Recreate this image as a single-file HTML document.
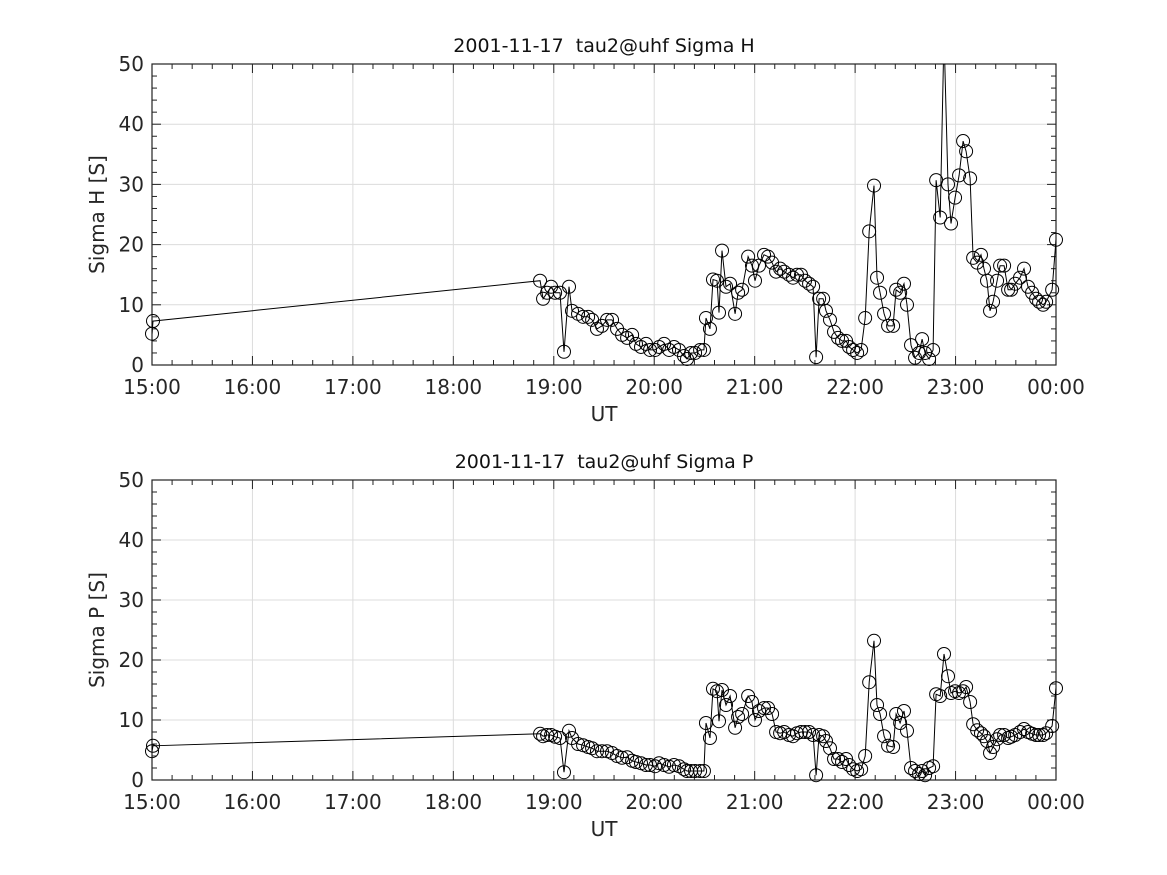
<!DOCTYPE html>
<html><head><meta charset="utf-8"><style>
body{margin:0;background:#fff}
svg{display:block;font-family:"DejaVu Sans","Liberation Sans",sans-serif}
text{white-space:pre}
</style></head><body>
<svg id="fig" width="1167" height="875" viewBox="0 0 1167 875">
<defs>
<clipPath id="c0"><rect x="152" y="64" width="904" height="301"/></clipPath>
<clipPath id="c1"><rect x="152" y="480" width="904" height="300"/></clipPath>
</defs>
</svg>
<script>
// minutes since 15:00 UT
const times=[0,0.6,
231.8,233.6,236.0,238.4,240.8,243.7,246.1,249.1,250.9,254.5,257.5,260.5,262.9,265.8,268.8,271.8,274.8,277.8,280.8,283.8,286.8,289.1,292.1,295.1,297.5,300.5,302.9,305.9,308.9,311.8,314.8,317.8,319.6,322.0,324.4,327.4,329.7,
330.9,333.3,335.1,337.5,338.7,340.5,342.9,345.3,348.3,350.1,352.5,356.1,358.4,360.2,362.6,365.6,368.0,370.4,372.8,375.2,377.6,380.5,382.9,385.3,387.7,390.1,392.5,394.9,
396.7,398.5,400.9,402.6,405.0,407.4,409.8,412.2,414.6,416.4,418.8,421.2,423.6,426.0,428.4,431.3,433.1,434.9,437.3,439.7,442.7,444.5,446.9,449.2,451.0,453.4,455.8,458.2,460.0,461.8,464.2,466.6,
468.4,470.8,473.1,475.5,477.3,479.7,482.1,484.5,486.3,488.7,490.5,492.9,495.2,497.0,498.8,500.6,502.4,504.8,506.6,509.0,511.4,513.2,515.6,518.5,520.9,523.3,525.7,528.1,529.9,532.3,534.1,537.7,540.0];
const sigmaH=[5.2,7.3,
14,11,12,13,12,12,2.2,13,9,8.5,8,8,7.5,6,6.5,7.5,7.5,6,5,4.5,5,3.5,3,3.5,2.5,2.5,3,3.5,2.5,3,2.5,1.5,1,2,2,2.5,2.5,
7.8,6,14.2,14,8.7,19,13,13.5,8.5,12,12.5,18,16.5,14,16.5,18.3,18,17,15.5,16,15.5,15,14.5,15,15,14,13.5,13,
1.3,11,11,9,7.5,5.5,4.5,4,4,3,2.5,2,2.5,7.8,22.2,29.8,14.5,12,8.5,6.5,6.5,12.5,12,13.5,10,3.3,1.2,2,4.3,2,1,2.5,
30.7,24.5,55,30,23.5,27.8,31.5,37.2,35.5,31,17.8,17,18.3,16,14,9,10.5,14,16.5,16.5,12.5,12.5,13.5,14.5,16,13,12,11,10.5,10,10.5,12.5,20.8];
const sigmaP=[4.8,5.7,
7.7,7.3,7.5,7.5,7.2,7,1.3,8.2,7,6,5.8,5.5,5.3,4.8,4.8,4.8,4.5,4,3.7,3.8,3.2,3,2.8,2.5,2.5,2.3,2.8,2.5,2.2,2.5,2.3,1.8,1.5,1.5,1.5,1.5,1.5,
9.5,7,15.2,14.8,9.8,15,12.5,14,8.7,10.5,11,14,13,10,11.5,12,12,11,8,7.8,8,7.5,7.3,7.8,8,8,8,7.5,
0.8,7.5,7.3,6.5,5.3,3.5,3.5,3,3.5,2.5,1.8,1.5,1.8,4,16.3,23.2,12.5,11,7.3,5.7,5.5,11,9.5,11.5,8.2,2,1.5,1,1.5,0.8,2,2.3,
14.3,14,21,17.3,14.5,14.8,14.5,14.8,15.5,13,9.3,8.3,7.8,7.3,6.5,4.5,5.5,6.8,7.5,7.5,7,7.2,7.5,8,8.5,8,7.7,7.5,7.5,7.5,7.8,9,15.3];
const xTickLabels=["15:00","16:00","17:00","18:00","19:00","20:00","21:00","22:00","23:00","00:00"];
const yTicks=[0,10,20,30,40,50];
const titles=["2001-11-17  tau2@uhf Sigma H","2001-11-17  tau2@uhf Sigma P"];
const yTitles=["Sigma H [S]","Sigma P [S]"];

const NS="http://www.w3.org/2000/svg";
const svg=document.getElementById('fig');
function mk(tag,attrs,parent){const e=document.createElementNS(NS,tag);for(const k in attrs)e.setAttribute(k,attrs[k]);(parent||svg).appendChild(e);return e;}
const X0=152,X1=1056;
const xs=m=>X0+m/540*(X1-X0);

function panel(top,bot,vals,idx){
  const ys=v=>bot-v/50*(bot-top);
  const g=mk('g',{});
  
  
  for(let i=0;i<xTickLabels.length;i++){const x=xs(i*60);
    mk('line',{x1:x,x2:x,y1:top,y2:bot,stroke:'#dcdcdc','stroke-width':1},g);}
  yTicks.forEach(v=>mk('line',{x1:X0,x2:X1,y1:ys(v),y2:ys(v),stroke:'#dcdcdc','stroke-width':1},g));
  for(let m=0;m<=540;m+=12){const x=xs(m);const L=(m%60==0)?9:5;
    mk('line',{x1:x,x2:x,y1:bot,y2:bot-L,stroke:'#222'},g);mk('line',{x1:x,x2:x,y1:top,y2:top+L,stroke:'#222'},g);}
  for(let v=0;v<=50;v+=2){const y=ys(v);const L=(v%10==0)?9:5;
    mk('line',{x1:X0,x2:X0+L,y1:y,y2:y,stroke:'#222'},g);mk('line',{x1:X1,x2:X1-L,y1:y,y2:y,stroke:'#222'},g);}
  mk('rect',{x:X0,y:top,width:X1-X0,height:bot-top,fill:'none',stroke:'#222','stroke-width':1.2},g);
  xTickLabels.forEach((t,i)=>{const e=mk('text',{x:xs(i*60),y:bot+29,'text-anchor':'middle','font-size':20,fill:'#262626'},g);e.textContent=t;
    
    });
  yTicks.forEach(v=>{const e=mk('text',{x:X0-8,y:ys(v)+7,'text-anchor':'end','font-size':20,fill:'#262626'},g);e.textContent=v;
    
    });
  const xt=mk('text',{x:(X0+X1)/2,y:bot+56,'text-anchor':'middle','font-size':20,fill:'#262626'},g);xt.textContent='UT';
  
  
  const yt=mk('text',{x:104,y:(top+bot)/2,'text-anchor':'middle','font-size':20,fill:'#262626',transform:`rotate(-90 104 ${(top+bot)/2})`},g);yt.textContent=yTitles[idx];
  
  
  const tt=mk('text',{x:(X0+X1)/2,y:top-12,'text-anchor':'middle','font-size':19,fill:'#111'},g);tt.textContent=titles[idx];
  
  
  const sg=mk('g',{'clip-path':`url(#c${idx})`},g);
  const d=times.map((t,i)=>(i?'L':'M')+xs(t).toFixed(1)+','+ys(vals[i]).toFixed(1)).join('');
  const p=mk('path',{d:d,fill:'none',stroke:'#000','stroke-width':1},sg);
  
  
  times.forEach((t,i)=>{if(vals[i]>50)return;
    const c=mk('circle',{cx:xs(t),cy:ys(vals[i]),r:6.5,fill:'none',stroke:'#000','stroke-width':1},g);
    
    });
}
panel(64,365,sigmaH,0);
panel(480,780,sigmaP,1);
</script>
</body></html>
